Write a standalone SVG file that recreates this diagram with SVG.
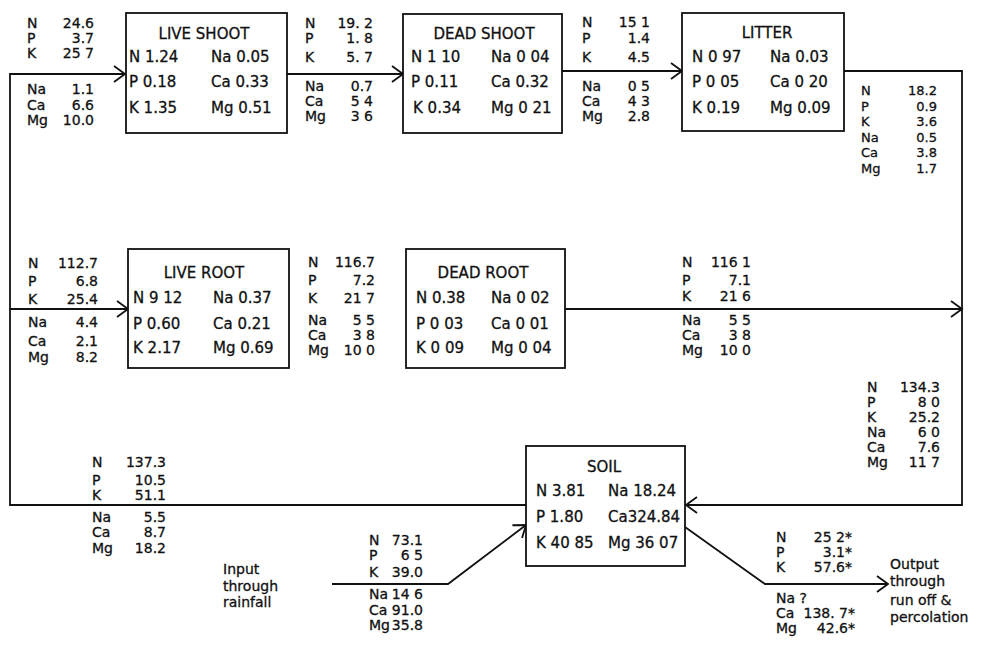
<svg xmlns="http://www.w3.org/2000/svg" width="985" height="647" viewBox="0 0 985 647">
<style>
text{font-family:"DejaVu Sans","Liberation Sans",sans-serif;font-size:15px;fill:#111;stroke:#111;stroke-width:0.3}
#flow-labels text{font-size:14px}
#flow-litter-to-soil text{font-size:13px}
.v{text-anchor:end}
.t{text-anchor:middle}
.box{fill:#fff;stroke:#111;stroke-width:1.8}
.ln{fill:none;stroke:#111;stroke-width:1.8}
</style>
<defs>
<marker id="ah" markerUnits="userSpaceOnUse" markerWidth="14" markerHeight="18" viewBox="-12 -9 14 18" refX="0" refY="0" orient="auto">
<path d="M-11,-8 L0,0 L-11,8" fill="none" stroke="#111" stroke-width="1.8"/>
</marker>
</defs>
<rect width="985" height="647" fill="#fff"/>
<g id="connectors">
<path class="ln" d="M526,505 H10 V74 H125" marker-end="url(#ah)"/>
<path class="ln" d="M10,309 H128" marker-end="url(#ah)"/>
<path class="ln" d="M287,74 H403" marker-end="url(#ah)"/>
<path class="ln" d="M562,71 H682" marker-end="url(#ah)"/>
<path class="ln" d="M844,71 H962 V505 H686" marker-end="url(#ah)"/>
<path class="ln" d="M565,309 H962" marker-end="url(#ah)"/>
<path class="ln" d="M332,584 H448 L526,525" marker-end="url(#ah)"/>
<path class="ln" d="M685,527 L765,584 H888" marker-end="url(#ah)"/>
</g>
<g id="live-shoot">
<rect class="box" x="126" y="13" width="161" height="120"/>
<text class="t" x="204" y="39">LIVE SHOOT</text>
<text x="129" y="62">N 1.24</text><text x="129" y="87">P 0.18</text><text x="129" y="113">K 1.35</text>
<text x="211" y="62">Na 0.05</text><text x="211" y="87">Ca 0.33</text><text x="211" y="113">Mg 0.51</text>
</g>
<g id="dead-shoot">
<rect class="box" x="403" y="14" width="159" height="119"/>
<text class="t" x="484" y="39">DEAD SHOOT</text>
<text x="411" y="62">N 1 10</text><text x="411" y="87">P 0.11</text><text x="413" y="113">K 0.34</text>
<text x="491" y="62">Na 0 04</text><text x="491" y="87">Ca 0.32</text><text x="491" y="113">Mg 0 21</text>
</g>
<g id="litter">
<rect class="box" x="682" y="13" width="162" height="118"/>
<text class="t" x="767" y="38">LITTER</text>
<text x="692" y="62">N 0 97</text><text x="692" y="87">P 0 05</text><text x="692" y="113">K 0.19</text>
<text x="770" y="62">Na 0.03</text><text x="770" y="87">Ca 0 20</text><text x="770" y="113">Mg 0.09</text>
</g>
<g id="live-root">
<rect class="box" x="128" y="249" width="161" height="119"/>
<text class="t" x="204" y="278">LIVE ROOT</text>
<text x="133" y="303">N 9 12</text><text x="133" y="329">P 0.60</text><text x="133" y="353">K 2.17</text>
<text x="213" y="303">Na 0.37</text><text x="213" y="329">Ca 0.21</text><text x="213" y="353">Mg 0.69</text>
</g>
<g id="dead-root">
<rect class="box" x="406" y="249" width="159" height="119"/>
<text class="t" x="483" y="278">DEAD ROOT</text>
<text x="416" y="303">N 0.38</text><text x="416" y="329">P 0 03</text><text x="416" y="353">K 0 09</text>
<text x="491" y="303">Na 0 02</text><text x="491" y="329">Ca 0 01</text><text x="491" y="353">Mg 0 04</text>
</g>
<g id="soil">
<rect class="box" x="526" y="446" width="159" height="120"/>
<text class="t" x="604" y="472">SOIL</text>
<text x="536" y="496">N 3.81</text><text x="536" y="522">P 1.80</text><text x="536" y="548">K 40 85</text>
<text x="608" y="496">Na 18.24</text><text x="608" y="522">Ca324.84</text><text x="608" y="548">Mg 36 07</text>
</g>
<g id="flow-labels">
<g id="flow-to-live-shoot">
<text x="27" y="28">N</text><text x="27" y="43">P</text><text x="27" y="58">K</text>
<text x="27" y="94">Na</text><text x="27" y="110">Ca</text><text x="27" y="125">Mg</text>
<text class="v" x="94" y="28">24.6</text><text class="v" x="94" y="43">3.7</text><text class="v" x="94" y="58">25 7</text>
<text class="v" x="94" y="94">1.1</text><text class="v" x="94" y="110">6.6</text><text class="v" x="94" y="125">10.0</text>
</g>
<g id="flow-live-to-dead-shoot">
<text x="305" y="28">N</text><text x="305" y="43">P</text><text x="305" y="62">K</text>
<text x="305" y="91">Na</text><text x="305" y="106">Ca</text><text x="305" y="121">Mg</text>
<text class="v" x="373" y="28">19. 2</text><text class="v" x="373" y="43">1. 8</text><text class="v" x="373" y="62">5. 7</text>
<text class="v" x="373" y="91">0.7</text><text class="v" x="373" y="106">5 4</text><text class="v" x="373" y="121">3 6</text>
</g>
<g id="flow-dead-shoot-to-litter">
<text x="582" y="27">N</text><text x="582" y="43">P</text><text x="582" y="62">K</text>
<text x="582" y="91">Na</text><text x="582" y="106">Ca</text><text x="582" y="121">Mg</text>
<text class="v" x="650" y="27">15 1</text><text class="v" x="650" y="43">1.4</text><text class="v" x="650" y="62">4.5</text>
<text class="v" x="650" y="91">0 5</text><text class="v" x="650" y="106">4 3</text><text class="v" x="650" y="121">2.8</text>
</g>
<g id="flow-litter-to-soil">
<text x="861" y="95">N</text><text x="861" y="110.5">P</text><text x="861" y="126">K</text>
<text x="861" y="141.5">Na</text><text x="861" y="157">Ca</text><text x="861" y="172.5">Mg</text>
<text class="v" x="937" y="95">18.2</text><text class="v" x="937" y="110.5">0.9</text><text class="v" x="937" y="126">3.6</text>
<text class="v" x="937" y="141.5">0.5</text><text class="v" x="937" y="157">3.8</text><text class="v" x="937" y="172.5">1.7</text>
</g>
<g id="flow-to-live-root">
<text x="28" y="268">N</text><text x="28" y="286">P</text><text x="28" y="304">K</text>
<text x="28" y="327">Na</text><text x="28" y="346">Ca</text><text x="28" y="362">Mg</text>
<text class="v" x="98" y="268">112.7</text><text class="v" x="98" y="286">6.8</text><text class="v" x="98" y="304">25.4</text>
<text class="v" x="98" y="327">4.4</text><text class="v" x="98" y="346">2.1</text><text class="v" x="98" y="362">8.2</text>
</g>
<g id="flow-live-to-dead-root">
<text x="308" y="267">N</text><text x="308" y="285">P</text><text x="308" y="303">K</text>
<text x="308" y="325">Na</text><text x="308" y="340">Ca</text><text x="308" y="355">Mg</text>
<text class="v" x="375" y="267">116.7</text><text class="v" x="375" y="285">7.2</text><text class="v" x="375" y="303">21 7</text>
<text class="v" x="375" y="325">5 5</text><text class="v" x="375" y="340">3 8</text><text class="v" x="375" y="355">10 0</text>
</g>
<g id="flow-dead-root-to-soil">
<text x="682" y="267">N</text><text x="682" y="285">P</text><text x="682" y="301">K</text>
<text x="682" y="325">Na</text><text x="682" y="340">Ca</text><text x="682" y="355">Mg</text>
<text class="v" x="751" y="267">116 1</text><text class="v" x="751" y="285">7.1</text><text class="v" x="751" y="301">21 6</text>
<text class="v" x="751" y="325">5 5</text><text class="v" x="751" y="340">3 8</text><text class="v" x="751" y="355">10 0</text>
</g>
<g id="flow-right-to-soil">
<text x="867" y="392">N</text><text x="867" y="407">P</text><text x="867" y="422">K</text>
<text x="867" y="437">Na</text><text x="867" y="452">Ca</text><text x="867" y="467">Mg</text>
<text class="v" x="940" y="392">134.3</text><text class="v" x="940" y="407">8 0</text><text class="v" x="940" y="422">25.2</text>
<text class="v" x="940" y="437">6 0</text><text class="v" x="940" y="452">7.6</text><text class="v" x="940" y="467">11 7</text>
</g>
<g id="flow-soil-to-plants">
<text x="92" y="467">N</text><text x="92" y="485">P</text><text x="92" y="500">K</text>
<text x="92" y="522">Na</text><text x="92" y="537">Ca</text><text x="92" y="553">Mg</text>
<text class="v" x="166" y="467">137.3</text><text class="v" x="166" y="485">10.5</text><text class="v" x="166" y="500">51.1</text>
<text class="v" x="166" y="522">5.5</text><text class="v" x="166" y="537">8.7</text><text class="v" x="166" y="553">18.2</text>
</g>
<g id="flow-rainfall">
<text x="369" y="545">N</text><text x="369" y="560">P</text><text x="369" y="577">K</text>
<text x="369" y="599">Na</text><text x="369" y="615">Ca</text><text x="369" y="630">Mg</text>
<text class="v" x="423" y="545">73.1</text><text class="v" x="423" y="560">6 5</text><text class="v" x="423" y="577">39.0</text>
<text class="v" x="423" y="599">14 6</text><text class="v" x="423" y="615">91.0</text><text class="v" x="423" y="630">35.8</text>
<text x="223" y="574">Input</text><text x="223" y="591">through</text><text x="223" y="607">rainfall</text>
</g>
<g id="flow-output">
<text x="776" y="542">N</text><text class="v" x="852" y="542">25 2*</text>
<text x="776" y="557">P</text><text class="v" x="852" y="557">3.1*</text>
<text x="776" y="572">K</text><text class="v" x="852" y="572">57.6*</text>
<text x="776" y="603">Na ?</text>
<text x="776" y="618">Ca</text><text class="v" x="855" y="618">138. 7*</text>
<text x="776" y="633">Mg</text><text class="v" x="855" y="633">42.6*</text>
<text x="890" y="569">Output</text><text x="890" y="586">through</text><text x="890" y="605">run off &amp;</text><text x="890" y="622">percolation</text>
</g>
</g>
</svg>
